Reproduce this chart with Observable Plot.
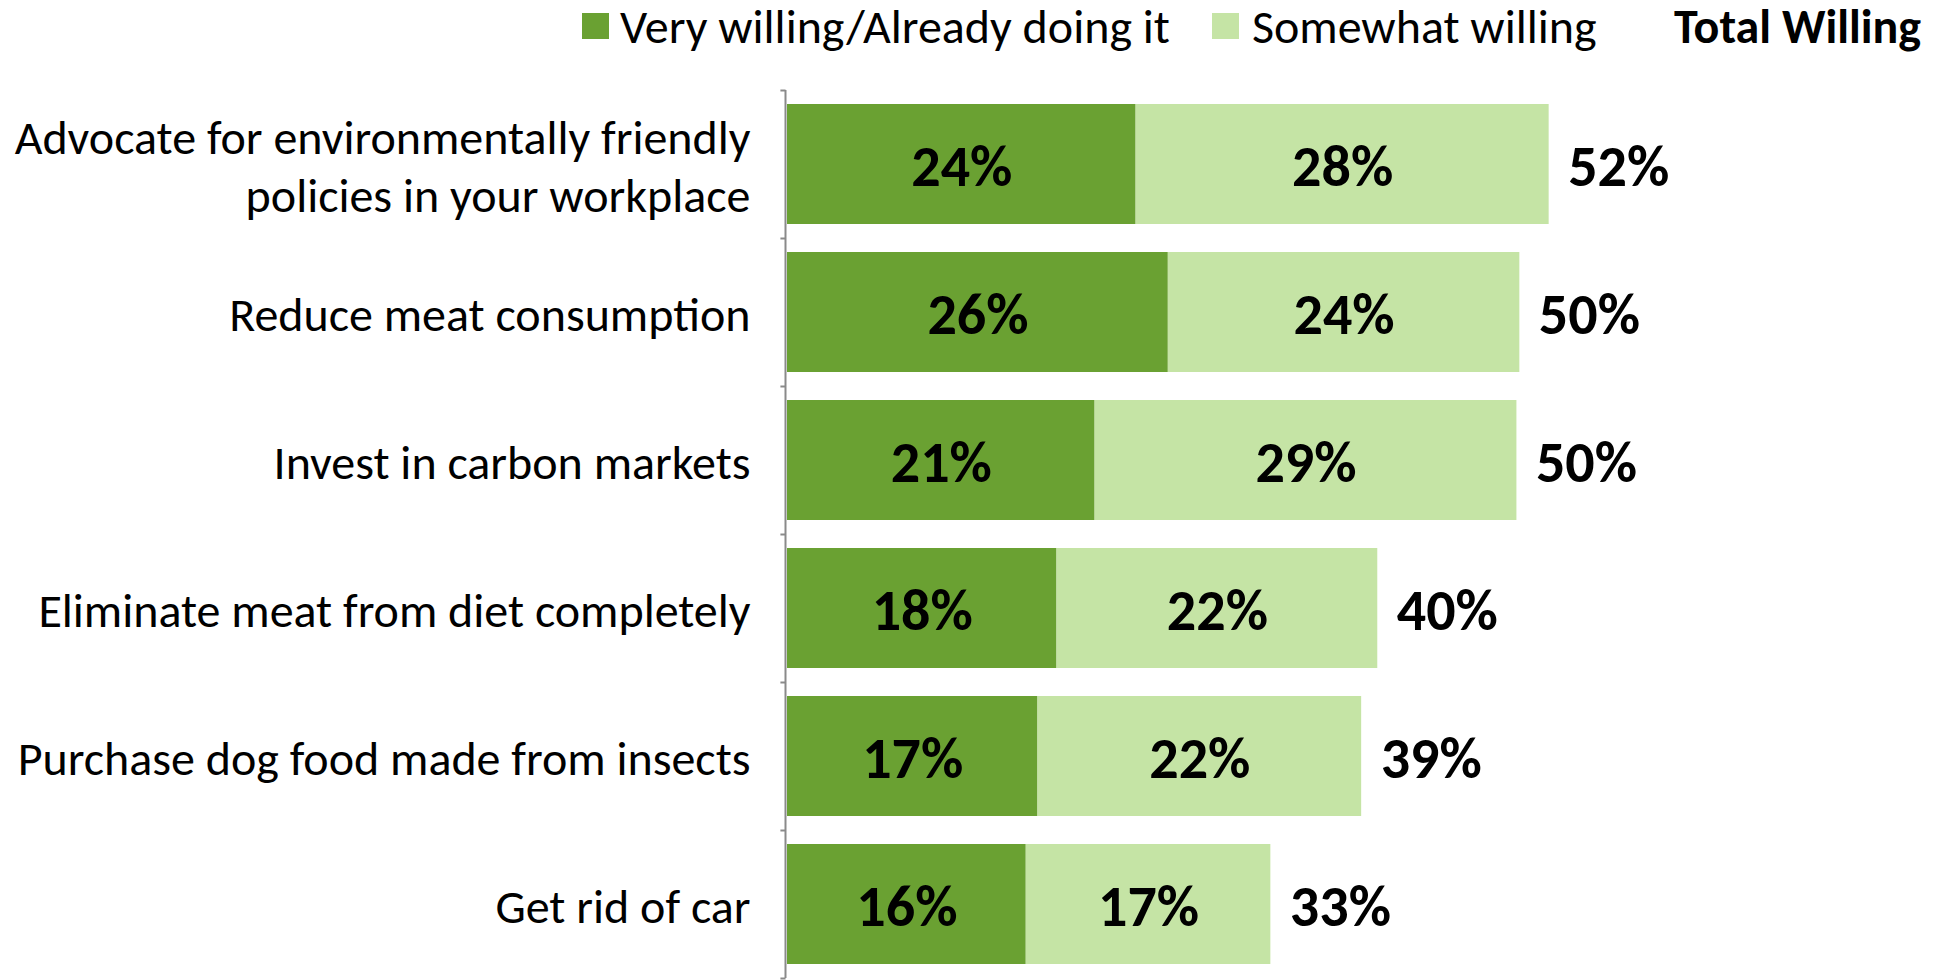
<!DOCTYPE html>
<html>
<head>
<meta charset="utf-8">
<script src="https://cdn.jsdelivr.net/npm/d3@7"></script>
<script src="https://cdn.jsdelivr.net/npm/@observablehq/plot@0.6"></script>
<style>
  html, body { margin: 0; padding: 0; background: #fff; }
  #wrap { position: relative; width: 1933px; height: 980px; font-family: Carlito, Calibri, Lato, sans-serif; }
  .lg { position: absolute; top: 0; height: 52px; display: flex; align-items: center; font-size: 48px; color: #000; white-space: nowrap; }
  .sw { position: absolute; top: 13px; width: 27px; height: 26px; }
  #chart { position: absolute; left: 0; top: 0; }
</style>
</head>
<body>
<div id="wrap">
  <div id="chart"></div>
  <div class="sw" id="sw1" style="left:582px"></div>
  <div class="lg" id="lg1" style="left:620px"></div>
  <div class="sw" id="sw2" style="left:1212px"></div>
  <div class="lg" id="lg2" style="left:1252px"></div>
  <div class="lg" id="lg3" style="left:1674px; font-weight:bold"></div>
</div>
<script>
const categories = [
  "Advocate for environmentally friendly\npolicies in your workplace",
  "Reduce meat consumption",
  "Invest in carbon markets",
  "Eliminate meat from diet completely",
  "Purchase dog food made from insects",
  "Get rid of car"
];
const seriesNames = ["Very willing/Already doing it", "Somewhat willing"];
const veryWilling = [23.8, 26.0, 21.0, 18.4, 17.1, 16.3];
const somewhatWilling = [28.2, 24.0, 28.8, 21.9, 22.1, 16.7];
const totalWilling = [52.0, 50.0, 49.8, 40.3, 39.2, 33.0];
const totalTitle = "Total Willing";
const colors = ["#6aa132", "#c5e4a5"];

const rows = categories.flatMap((c, i) => [
  {cat: c, series: seriesNames[0], value: veryWilling[i]},
  {cat: c, series: seriesNames[1], value: somewhatWilling[i]}
]);
const totals = categories.map((c, i) => ({cat: c, total: totalWilling[i]}));
const pct = v => Math.round(v) + "%";

const W = 1933, H = 980, mTop = 90, mBottom = 2;
const step = (H - mTop - mBottom) / categories.length;
const font = "Carlito, Calibri, Lato, sans-serif";

const chart = Plot.plot({
  width: W,
  height: H,
  marginLeft: 787,
  marginRight: 5,
  marginTop: mTop,
  marginBottom: mBottom,
  style: {fontFamily: font, background: "transparent"},
  x: {domain: [0, 77.9], axis: null},
  y: {domain: categories, axis: null, paddingInner: 0.19, paddingOuter: 0.095},
  color: {domain: seriesNames, range: colors},
  marks: [
    Plot.barX(rows, Plot.stackX({y: "cat", x: "value", fill: "series"})),
    Plot.text(rows, Plot.stackX({
      y: "cat", x: "value", z: "series",
      text: d => pct(d.value),
      fontSize: 58, fontWeight: "bold", fill: "#000", dy: 3
    })),
    Plot.text(totals, {
      y: "cat", x: "total", text: d => pct(d.total),
      textAnchor: "start", dx: 19, fontSize: 58, fontWeight: "bold", fill: "#000", dy: 3
    }),
    Plot.text(categories, {
      y: d => d, x: () => 0, text: d => d,
      textAnchor: "end", dx: -37, dy: 0, fontSize: 48, lineHeight: 1.2, fill: "#000"
    }),
    Plot.ruleX([0], {stroke: "#8a8a8a", strokeWidth: 2, dx: -2}),
    Plot.ruleY(categories, {y: d => d, x1: -0.45, x2: -0.1, dy: -step / 2, stroke: "#8a8a8a", strokeWidth: 2}),
    Plot.ruleY(categories.slice(-1), {y: d => d, x1: -0.45, x2: -0.1, dy: step / 2, stroke: "#8a8a8a", strokeWidth: 2})
  ]
});
document.getElementById("chart").appendChild(chart);

document.getElementById("sw1").style.background = colors[0];
document.getElementById("sw2").style.background = colors[1];
document.getElementById("lg1").textContent = seriesNames[0];
document.getElementById("lg2").textContent = seriesNames[1];
document.getElementById("lg3").textContent = totalTitle;
</script>
</body>
</html>
